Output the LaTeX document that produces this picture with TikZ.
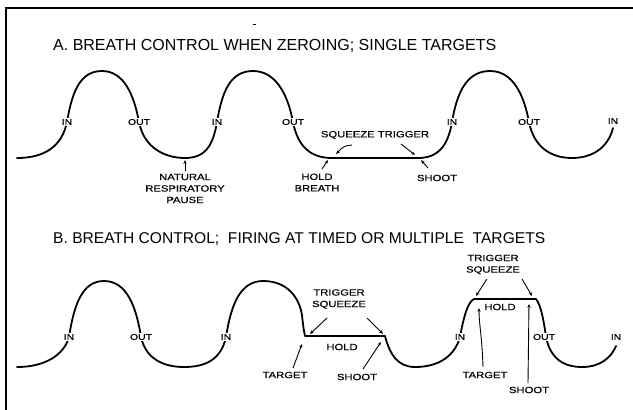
\documentclass[tikz,border=0pt]{standalone}
\usepackage{fontspec}
\setmainfont{Liberation Sans}
\newfontfamily\lblfont[FakeStretch=1.25,FakeBold=0.5]{Liberation Sans}
\usetikzlibrary{arrows.meta}
\tikzset{
 wave/.style={line width=1.8pt, line cap=round, line join=round},
 framestyle/.style={line width=2pt},
 ttl/.style={font=\fontsize{16}{19}\selectfont, anchor=base west, inner sep=0pt},
 io/.style={font=\lblfont\fontsize{8.3}{10}\selectfont, fill=white, inner sep=0.8pt},
 lbl/.style={font=\lblfont\fontsize{9}{11.5}\selectfont, align=center, inner sep=0pt},
 arr/.style={line width=0.9pt, -{Stealth[length=4pt,width=3.2pt]}},
}
\begin{document}
\begin{tikzpicture}[x=1pt,y=-1pt]
\useasboundingbox (0,0) rectangle (633,410);
% frame
\draw[framestyle] (6,410) -- (6,8) -- (633,8);
\draw[line width=0.6pt] (253,24) -- (256,24);
% titles
\node[ttl] (ta) at (53,50) {A. BREATH CONTROL WHEN ZEROING; SINGLE TARGETS};
\node[ttl, font=\fontsize{15.6}{19}\selectfont] (tb) at (53,243) {B. BREATH CONTROL;\ \ FIRING AT TIMED OR MULTIPLE\ \ TARGETS};

% ---------- panel A wave ----------
\draw[wave] (17,158) .. controls (45,158) and (62,146) .. (67,122)
 .. controls (72,92) and (80,71) .. (102,71)
 .. controls (124,71) and (134,95) .. (139,122)
 .. controls (144,148) and (165,158) .. (185,158)
 .. controls (205,158) and (213,146) .. (217,122)
 .. controls (222,92) and (230,71) .. (253,71)
 .. controls (276,71) and (288,95) .. (293,122)
 .. controls (298,148) and (312,158) .. (332,158)
 -- (418,158)
 .. controls (438,158) and (448,146) .. (452,122)
 .. controls (457,92) and (467,71) .. (490,71)
 .. controls (513,71) and (524,95) .. (529,122)
 .. controls (534,148) and (552,158) .. (572,158)
 .. controls (592,158) and (608,148) .. (613,128);
\node[io] (a1) at (67,122) {IN};
\node[io] (a2) at (139,122) {OUT};
\node[io] (a3) at (217,122) {IN};
\node[io] (a4) at (293,122) {OUT};
\node[io] (a5) at (452,122) {IN};
\node[io] (a6) at (529,122) {OUT};
\node[io] (a7) at (613,121) {IN};

\node[lbl] (nrp) at (185,188.5) {NATURAL\\RESPIRATORY\\PAUSE};
\node[lbl] (sqa) at (375,135) {SQUEEZE TRIGGER};
\node[lbl] (hb) at (317,182.5) {HOLD\\BREATH};
\node[lbl] (sha) at (437,178) {SHOOT};

\coordinate (nrpT) at (185,171); \coordinate (nrpH) at (185,160);
\coordinate (hbT) at (322,169); \coordinate (hbH) at (328,160);
\coordinate (sqlT) at (352,145); \coordinate (sqlH) at (336,154);
\coordinate (sqrT) at (401,144); \coordinate (sqrH) at (415,155);
\coordinate (shaT) at (428,168); \coordinate (shaH) at (421,160);
\draw[arr] (nrpT) -- (nrpH);
\draw[arr] (hbT) -- (hbH);
\draw[arr] (sqlT) .. controls (344,146) .. (sqlH);
\draw[arr] (sqrT) -- (sqrH);
\draw[arr] (shaT) -- (shaH);

% ---------- panel B wave ----------
\draw[wave] (17,367) .. controls (45,367) and (64,355) .. (69,337)
 .. controls (74,305) and (82,281) .. (104,281)
 .. controls (126,281) and (136,305) .. (141,337)
 .. controls (146,360) and (165,367) .. (184,367)
 .. controls (205,367) and (221,360) .. (226,337)
 .. controls (231,305) and (240,281) .. (263,281)
 .. controls (287,281) and (299,297) .. (302,315)
 .. controls (303,325) and (304,332) .. (305,336)
 -- (385,336)
 .. controls (390,355) and (398,367) .. (415,367)
 .. controls (440,367) and (455,355) .. (460,337)
 .. controls (464,315) and (468,302) .. (474,299)
 -- (536,299)
 .. controls (541,305) and (544,322) .. (546,337)
 .. controls (550,357) and (562,367) .. (582,367)
 .. controls (600,367) and (611,358) .. (616,346);
\node[io] (b1) at (69,337) {IN};
\node[io] (b2) at (141,337) {OUT};
\node[io] (b3) at (226,337) {IN};
\node[io] (b4) at (460,337) {IN};
\node[io] (b5) at (544,337) {OUT};
\node[io] (b6) at (616,337) {IN};

\node[lbl] (ts1) at (339,299) {TRIGGER\\SQUEEZE};
\node[lbl] (ho1) at (342,347) {HOLD};
\node[lbl] (tg1) at (285,375) {TARGET};
\node[lbl] (sh1) at (357,377) {SHOOT};
\node[lbl] (ts2) at (493,264.5) {TRIGGER\\SQUEEZE};
\node[lbl] (ho2) at (500,307) {HOLD};
\node[lbl] (tg2) at (485,375) {TARGET};
\node[lbl] (sh2) at (529,390) {SHOOT};

\coordinate (t1lT) at (327,318); \coordinate (t1lH) at (310,334);
\coordinate (t1rT) at (367,318); \coordinate (t1rH) at (383,334);
\coordinate (g1T) at (293,368); \coordinate (g1H) at (302,344);
\coordinate (s1T) at (363,369); \coordinate (s1H) at (381,342);
\coordinate (t2lT) at (487,279); \coordinate (t2lH) at (476,296);
\coordinate (t2rT) at (522,279); \coordinate (t2rH) at (532,296);
\coordinate (g2T) at (483,367); \coordinate (g2H) at (479,308);
\coordinate (s2T) at (528,383); \coordinate (s2H) at (529,304);
\draw[arr] (t1lT) -- (t1lH);
\draw[arr] (t1rT) -- (t1rH);
\draw[arr] (g1T) -- (g1H);
\draw[arr] (s1T) -- (s1H);
\draw[arr] (t2lT) -- (t2lH);
\draw[arr] (t2rT) -- (t2rH);
\draw[arr] (g2T) .. controls (482,335) and (479,325) .. (g2H);
\draw[arr] (s2T) -- (s2H);
\end{tikzpicture}
\end{document}
